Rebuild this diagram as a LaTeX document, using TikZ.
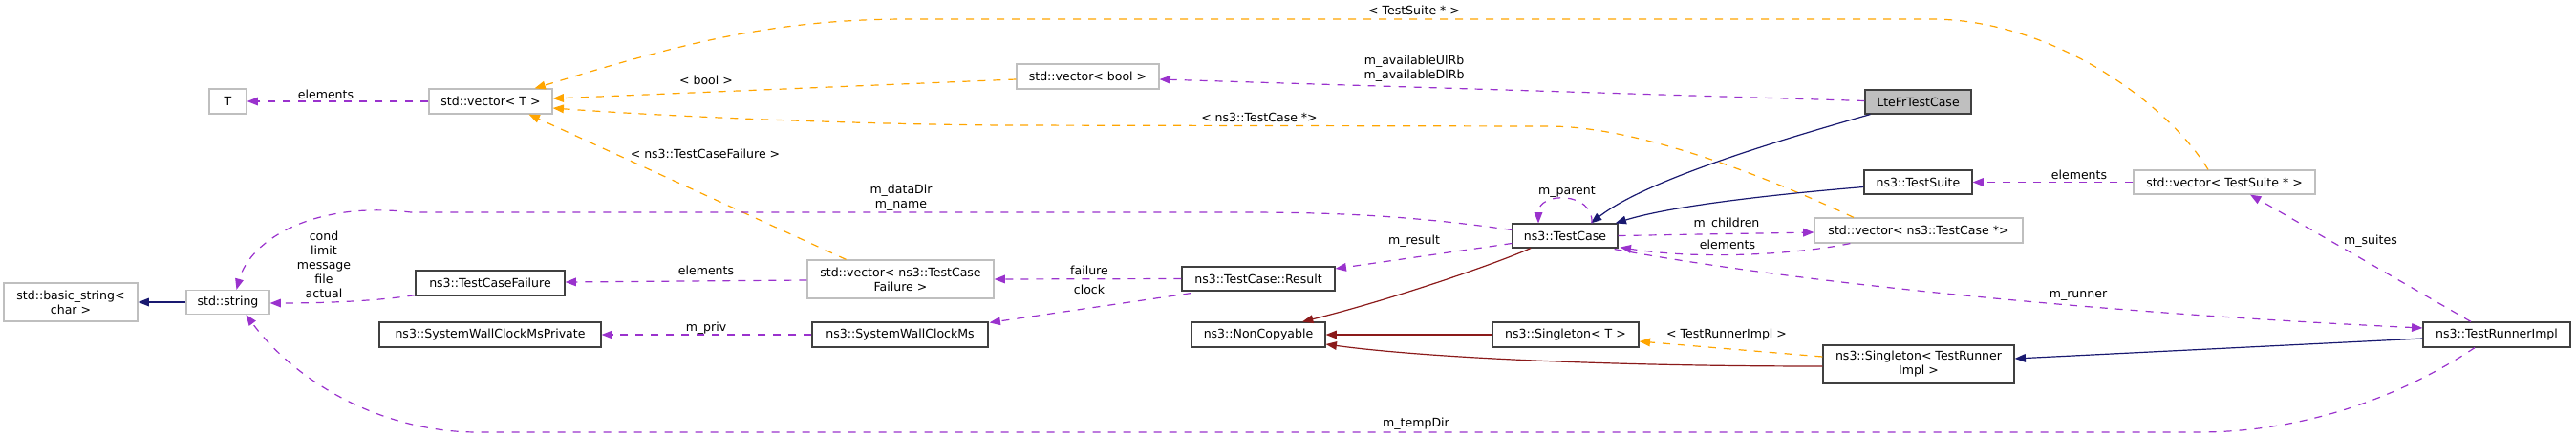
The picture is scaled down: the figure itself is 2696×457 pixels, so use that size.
\documentclass[tikz,border=0pt]{standalone}
\usepackage{fontspec}
\setmainfont{DejaVu Sans}
\usetikzlibrary{arrows.meta,calc}
\definecolor{cpurple}{HTML}{9A32CD}
\definecolor{corange}{HTML}{FFA500}
\definecolor{cnavy}{HTML}{191970}
\definecolor{cred}{HTML}{8B1A1A}
\definecolor{cgray}{HTML}{BFBFBF}
\definecolor{cdark}{HTML}{404040}
\begin{document}
\begin{tikzpicture}[x=0.75pt,y=-0.75pt,
  font=\fontsize{9.4}{11.25}\selectfont,
  sz/.style 2 args={minimum width=#1*0.75pt,minimum height=#2*0.75pt},
  box/.style={draw=cdark,line width=0.9pt,inner sep=0pt,align=center,fill=white},
  gbox/.style={box,draw=cgray},
  lbl/.style={inner sep=0pt,align=center},
  tip/.style={-{Triangle[length=8.5pt,width=6.5pt]}},
  purp/.style={tip,draw=cpurple,line width=0.9pt,dash pattern=on 6pt off 6pt},
  orng/.style={tip,draw=corange,line width=0.9pt,dash pattern=on 6pt off 6pt},
  navyl/.style={tip,draw=cnavy,line width=0.9pt},
  redl/.style={tip,draw=cred,line width=0.9pt}]
\useasboundingbox (0,0) rectangle (2696,457);
% nodes
\node[gbox,sz={39}{26}] (T) at (238.5,106) {T};
\node[gbox,sz={129}{26}] (vecT) at (513.5,106) {std::vector< T >};
\node[gbox,sz={140}{40}] (basic) at (74,316) {std::basic\_string<\\char >};
\node[gbox,sz={87}{25}] (str) at (238.5,316) {std::string};
\node[box,sz={156}{26}] (TCF) at (513,296) {ns3::TestCaseFailure};
\node[box,sz={232}{26}] (SWCMP) at (513,350) {ns3::SystemWallClockMsPrivate};
\node[gbox,sz={149}{26}] (vecBool) at (1138.5,80) {std::vector< bool >};
\node[gbox,sz={195}{40}] (vecTCF) at (942.5,292) {std::vector< ns3::TestCase\\Failure >};
\node[box,sz={160}{25}] (Result) at (1317,291.5) {ns3::TestCase::Result};
\node[box,sz={184}{26}] (SWCM) at (942,350) {ns3::SystemWallClockMs};
\node[box,sz={140}{26}] (NonCopy) at (1317,350) {ns3::NonCopyable};
\node[box,fill=cgray,sz={111}{25}] (Lte) at (2007.5,106.5) {LteFrTestCase};
\node[box,sz={113}{25}] (Suite) at (2007.5,190.5) {ns3::TestSuite};
\node[box,sz={110}{25}] (TC) at (1638,246.5) {ns3::TestCase};
\node[gbox,sz={218}{26}] (vecTC) at (2008,241) {std::vector< ns3::TestCase *>};
\node[box,sz={153}{26}] (SingT) at (1638.5,350) {ns3::Singleton< T >};
\node[box,sz={200}{40}] (SingTR) at (2008,381) {ns3::Singleton< TestRunner\\Impl >};
\node[gbox,sz={190}{25}] (vecTS) at (2328,190.5) {std::vector< TestSuite * >};
\node[box,sz={154}{26}] (TRI) at (2613,350) {ns3::TestRunnerImpl};
% edges
\draw[purp] (vecT.west) -- (T.east);
\draw[orng] ($(vecTS.north)+(-17,0)$) .. controls (2270,110) and (2150,20) .. (2020,20) -- (950,20) .. controls (800,20) and (700,50) .. ($(vecT.north)+(46,0)$);
\draw[orng] ($(vecBool.west)+(0,3)$) -- ($(vecT.east)+(0,-3)$);
\draw[orng] ($(vecTC.north)+(-68,0)$) .. controls (1860,190) and (1720,132) .. (1620,132) -- (1050,131) .. controls (900,130) and (700,122) .. ($(vecT.east)+(0,7)$);
\draw[orng] ($(vecTCF.north)+(-57,0)$) -- ($(vecT.south)+(40,0)$);
\draw[purp] ($(Lte.west)+(0,-1)$) -- ($(vecBool.east)+(0,3)$);
\draw[navyl] ($(Lte.south west)+(6,0)$) .. controls (1850,150) and (1720,190) .. ($(TC.north)+(27,0)$);
\draw[navyl] ($(Suite.west)+(0,5)$) .. controls (1860,203) and (1750,215) .. ($(TC.north east)+(-3,0)$);
\draw[purp] ($(TC.north)+(28,0)$) .. controls (1668,200) and (1610,200) .. ($(TC.north)+(-28,0)$);
\draw[purp] ($(TC.west)+(0,-6)$) .. controls (1480,226) and (1400,222) .. (1300,222) -- (430,222) .. controls (330,210) and (262,250) .. ($(str.north)+(9,0)$);
\draw[purp] ($(TC.west)+(0,8)$) -- ($(Result.east)+(0,-10.5)$);
\draw[purp] (TC.east) -- ($(vecTC.west)+(0,2)$);
\draw[purp] ($(vecTC.south west)+(38,0)$) .. controls (1880,266) and (1780,272) .. ($(TC.south east)+(2,-1)$);
\draw[purp] ($(TC.south east)+(-4,1)$) .. controls (1850,290) and (2150,325) .. ($(TRI.west)+(0,-7)$);
\draw[redl] ($(TC.south)+(-36,0)$) .. controls (1560,278) and (1450,315) .. ($(NonCopy.north)+(46,0)$);
\draw[redl] (SingT.west) -- (NonCopy.east);
\draw[redl] ($(SingTR.west)+(0,2)$) .. controls (1700,383) and (1500,375) .. ($(NonCopy.east)+(0,10)$);
\draw[orng] ($(SingTR.west)+(0,-8)$) -- ($(SingT.east)+(0,7)$);
\draw[navyl] ($(TRI.west)+(0,4)$) -- ($(SingTR.east)+(0,-6)$);
\draw[purp] ($(TRI.north)+(-27,0)$) -- ($(vecTS.south)+(27,0)$);
\draw[purp] ($(TRI.south)+(-23,0)$) .. controls (2520,410) and (2420,452) .. (2300,452) -- (500,452) .. controls (400,452) and (310,400) .. ($(str.south)+(19,0)$);
\draw[purp] ($(TCF.south west)+(0,-1)$) .. controls (400,314) and (350,317) .. ($(str.east)+(0,1)$);
\draw[navyl] (str.west) -- (basic.east);
\draw[purp] ($(vecTCF.west)+(0,1)$) -- ($(TCF.east)+(0,-1)$);
\draw[purp] (Result.west) -- (vecTCF.east);
\draw[purp] ($(Result.south west)+(10,2)$) -- ($(SWCM.north east)+(1,1)$);
\draw[purp] (SWCM.west) -- (SWCMP.east);
\draw[purp] (vecTS.west) -- (Suite.east);
% labels
\node[lbl] (l1) at (341,99) {elements};
\node[lbl] (l2) at (1480,11) {< TestSuite * >};
\node[lbl] (l3) at (739,84) {< bool >};
\node[lbl] (l4) at (1318,123) {< ns3::TestCase *>};
\node[lbl] (l5) at (738,161) {< ns3::TestCaseFailure >};
\node[lbl] (l6) at (1480,72) {m\_availableUlRb\\m\_availableDlRb};
\node[lbl] (l7) at (943,207) {m\_dataDir\\m\_name};
\node[lbl] (l8) at (1640,201) {m\_parent};
\node[lbl] (l9) at (1480,252) {m\_result};
\node[lbl] (l10) at (1807,234) {m\_children};
\node[lbl] (l11) at (1808,256) {elements};
\node[lbl] (l12) at (2175,309) {m\_runner};
\node[lbl] (l13) at (1807,350) {< TestRunnerImpl >};
\node[lbl] (l14) at (1482,443) {m\_tempDir};
\node[lbl] (l15) at (2481,252) {m\_suites};
\node[lbl] (l16) at (2176,183) {elements};
\node[lbl] (l17) at (339,277) {cond\\limit\\message\\file\\actual};
\node[lbl] (l18) at (739,283) {elements};
\node[lbl] (l19) at (1140,283) {failure};
\node[lbl] (l20) at (1140,303) {clock};
\node[lbl] (l21) at (739,343) {m\_priv};
\end{tikzpicture}
\end{document}
